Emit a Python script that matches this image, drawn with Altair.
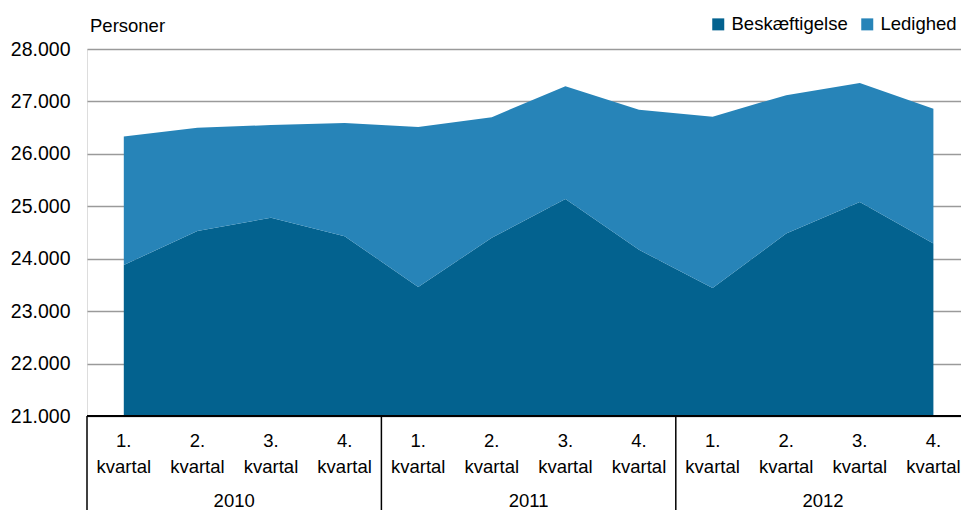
import altair as alt
import pandas as pd

years = ["2010", "2011", "2012"]
quarters = ["1.", "2.", "3.", "4."]
series = ["Beskæftigelse", "Ledighed"]
colors = ["#03628f", "#2784b8"]

beskaeftigelse = [23880, 24530, 24780, 24430, 23460, 24400, 25140, 24170, 23440, 24480, 25080, 24290]
ledighed = [2450, 1970, 1770, 2160, 3050, 2300, 2150, 2670, 3270, 2640, 2270, 2570]

rows = []
t = 0
for y in years:
    for q in quarters:
        for k, (name, vals) in enumerate(zip(series, [beskaeftigelse, ledighed])):
            rows.append({"t": t, "year": y, "quarter": q, "serie": name,
                         "value": vals[t], "order": k})
        t += 1
df = pd.DataFrame(rows)
qdf = df[df["serie"] == series[0]]

FONT = "Liberation Sans, Arial, sans-serif"
FS = 18.5
FSY = 19.5
W, H = 874, 367

x_scale = alt.Scale(domain=[-0.5, 11.375], nice=False, zero=False)
y_scale = alt.Scale(domain=[21000, 28000], nice=False, zero=False)

area = alt.Chart(df).mark_area(clip=True, opacity=1).encode(
    x=alt.X("t:Q", scale=x_scale, axis=None),
    y=alt.Y("value:Q", stack="zero", scale=y_scale,
            axis=alt.Axis(values=list(range(21000, 28001, 1000)),
                          labelExpr="replace(format(datum.value, ','), ',', '.')",
                          grid=True, gridColor="#9a9a9a", gridWidth=1.5,
                          domain=False, ticks=False, tickSize=0,
                          labelFont=FONT, labelFontSize=FSY, labelColor="black",
                          labelPadding=17, title=None)),
    color=alt.Color("serie:N", scale=alt.Scale(domain=series, range=colors),
                    legend=alt.Legend(orient="none", legendX=622, legendY=-34,
                                      direction="horizontal", title=None,
                                      symbolType="square", symbolSize=144,
                                      symbolStrokeWidth=0, symbolOpacity=1,
                                      labelFont=FONT, labelFontSize=FS,
                                      labelColor="black", columnPadding=10,
                                      labelOffset=4, padding=0)),
    order=alt.Order("order:Q"),
)

axis_line = alt.Chart(qdf).mark_rule(color="black", strokeWidth=2).encode(
    x=alt.value(0), x2=alt.value(W), y=alt.value(H)
)

sep = alt.Chart(qdf).transform_aggregate(
    first="min(t)", groupby=["year"]
).transform_calculate(
    pos="datum.first - 0.5"
).mark_rule(color="black", strokeWidth=1.5).encode(
    x=alt.X("pos:Q", scale=x_scale),
    y=alt.value(H), y2=alt.value(461)
)

q_num = alt.Chart(qdf).mark_text(font=FONT, fontSize=FS, color="black",
                                  baseline="middle").encode(
    x=alt.X("t:Q", scale=x_scale), y=alt.value(392), text="quarter:N"
)
q_word = alt.Chart(qdf).transform_calculate(w="'kvartal'").mark_text(
    font=FONT, fontSize=FS, color="black", baseline="middle").encode(
    x=alt.X("t:Q", scale=x_scale), y=alt.value(418), text="w:N"
)
year_text = alt.Chart(qdf).transform_aggregate(
    mid="mean(t)", groupby=["year"]
).mark_text(font=FONT, fontSize=FS, color="black", baseline="middle").encode(
    x=alt.X("mid:Q", scale=x_scale), y=alt.value(452), text="year:N"
)

ytitle = alt.Chart(qdf).transform_aggregate(n="count()").transform_calculate(
    label="'Personer'"
).mark_text(font=FONT, fontSize=FS, color="black", align="left",
            baseline="middle").encode(
    x=alt.value(3), y=alt.value(-23.5), text="label:N"
)

chart = alt.layer(area, axis_line, sep, q_num, q_word, year_text, ytitle).properties(
    width=W, height=H,
    autosize=alt.AutoSizeParams(type="none"),
    padding={"left": 79, "top": 41, "right": 0, "bottom": 94},
).configure_view(stroke=None).configure(background="white")

chart.save("out.html", embed_options={"renderer": "svg", "actions": False})
